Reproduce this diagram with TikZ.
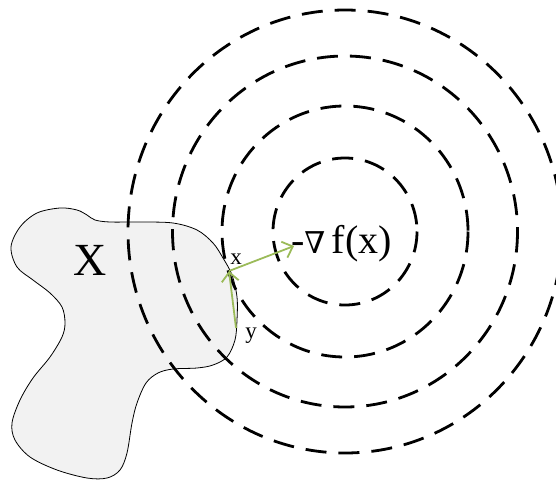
\documentclass[tikz,border=0pt]{standalone}
\usepackage{fontspec}
\setmainfont{Liberation Serif}
\newfontfamily\nablafont{DejaVu Serif}
\usetikzlibrary{arrows.meta}
\definecolor{blobfill}{HTML}{F2F2F2}
\definecolor{arrgreen}{HTML}{9BBB59}
\tikzset{
  contour/.style={draw=black, line width=2.8pt, dash pattern=on 21pt off 12pt},
  blob/.style={draw=black, line width=0.8pt, fill=blobfill},
  garrow/.style={draw=arrgreen, line width=1.8pt, -{Straight Barb[length=9pt,width=17pt,line width=1.8pt]}},
  lbl/.style={inner sep=0pt, anchor=base}
}
\begin{document}
\begin{tikzpicture}[x=1pt,y=-1pt]
\useasboundingbox (0,0) rectangle (556,482);
\clip (0,0) rectangle (556,482);
% the set X
\path[blob] plot[smooth cycle, tension=0.55] coordinates {
  (11,247) (20,227) (37,213) (60,208) (77,210) (87,215) (95,220) (110,222)
  (140,222) (173,223) (197,230) (213,243) (223,258) (232,275) (237,297)
  (237,320) (235,340) (227,357) (213,365) (197,368) (173,369) (158,373)
  (146,383) (137,403) (132,423) (127,453) (120,470) (107,478) (87,478)
  (57,470) (30,457) (15,440) (12,423) (20,400) (33,378) (50,357) (62,337)
  (65,323) (62,307) (50,293) (33,280) (17,267)};
% level sets
\coordinate (c) at (345,231.5);
\draw[contour] (c) ellipse [x radius=72, y radius=73.5];
\draw[contour] (c) ellipse [x radius=123, y radius=125.5];
\draw[contour] (c) ellipse [x radius=172.5, y radius=175.5];
\draw[contour] (c) ellipse [x radius=217, y radius=221.5];
% labels
\node[lbl, font=\fontsize{46}{50}\selectfont] (X) at (90,275) {X};
\node[lbl, font=\fontsize{40}{46}\selectfont] (grad) at (341.5,253) {-{\nablafont\fontsize{30}{34}\selectfont ∇}\,f(x)};
\node[lbl, font=\fontsize{23}{26}\selectfont] (xl) at (236,264) {x};
\node[lbl, font=\fontsize{23}{26}\selectfont] (yl) at (251,338) {y};
% arrows
\coordinate (xp) at (229,271);
\coordinate (yp) at (236,328);
\coordinate (gp) at (294,246);
\draw[garrow] (yp) -- (xp);
\draw[garrow] (xp) -- (gp);
\end{tikzpicture}
\end{document}
